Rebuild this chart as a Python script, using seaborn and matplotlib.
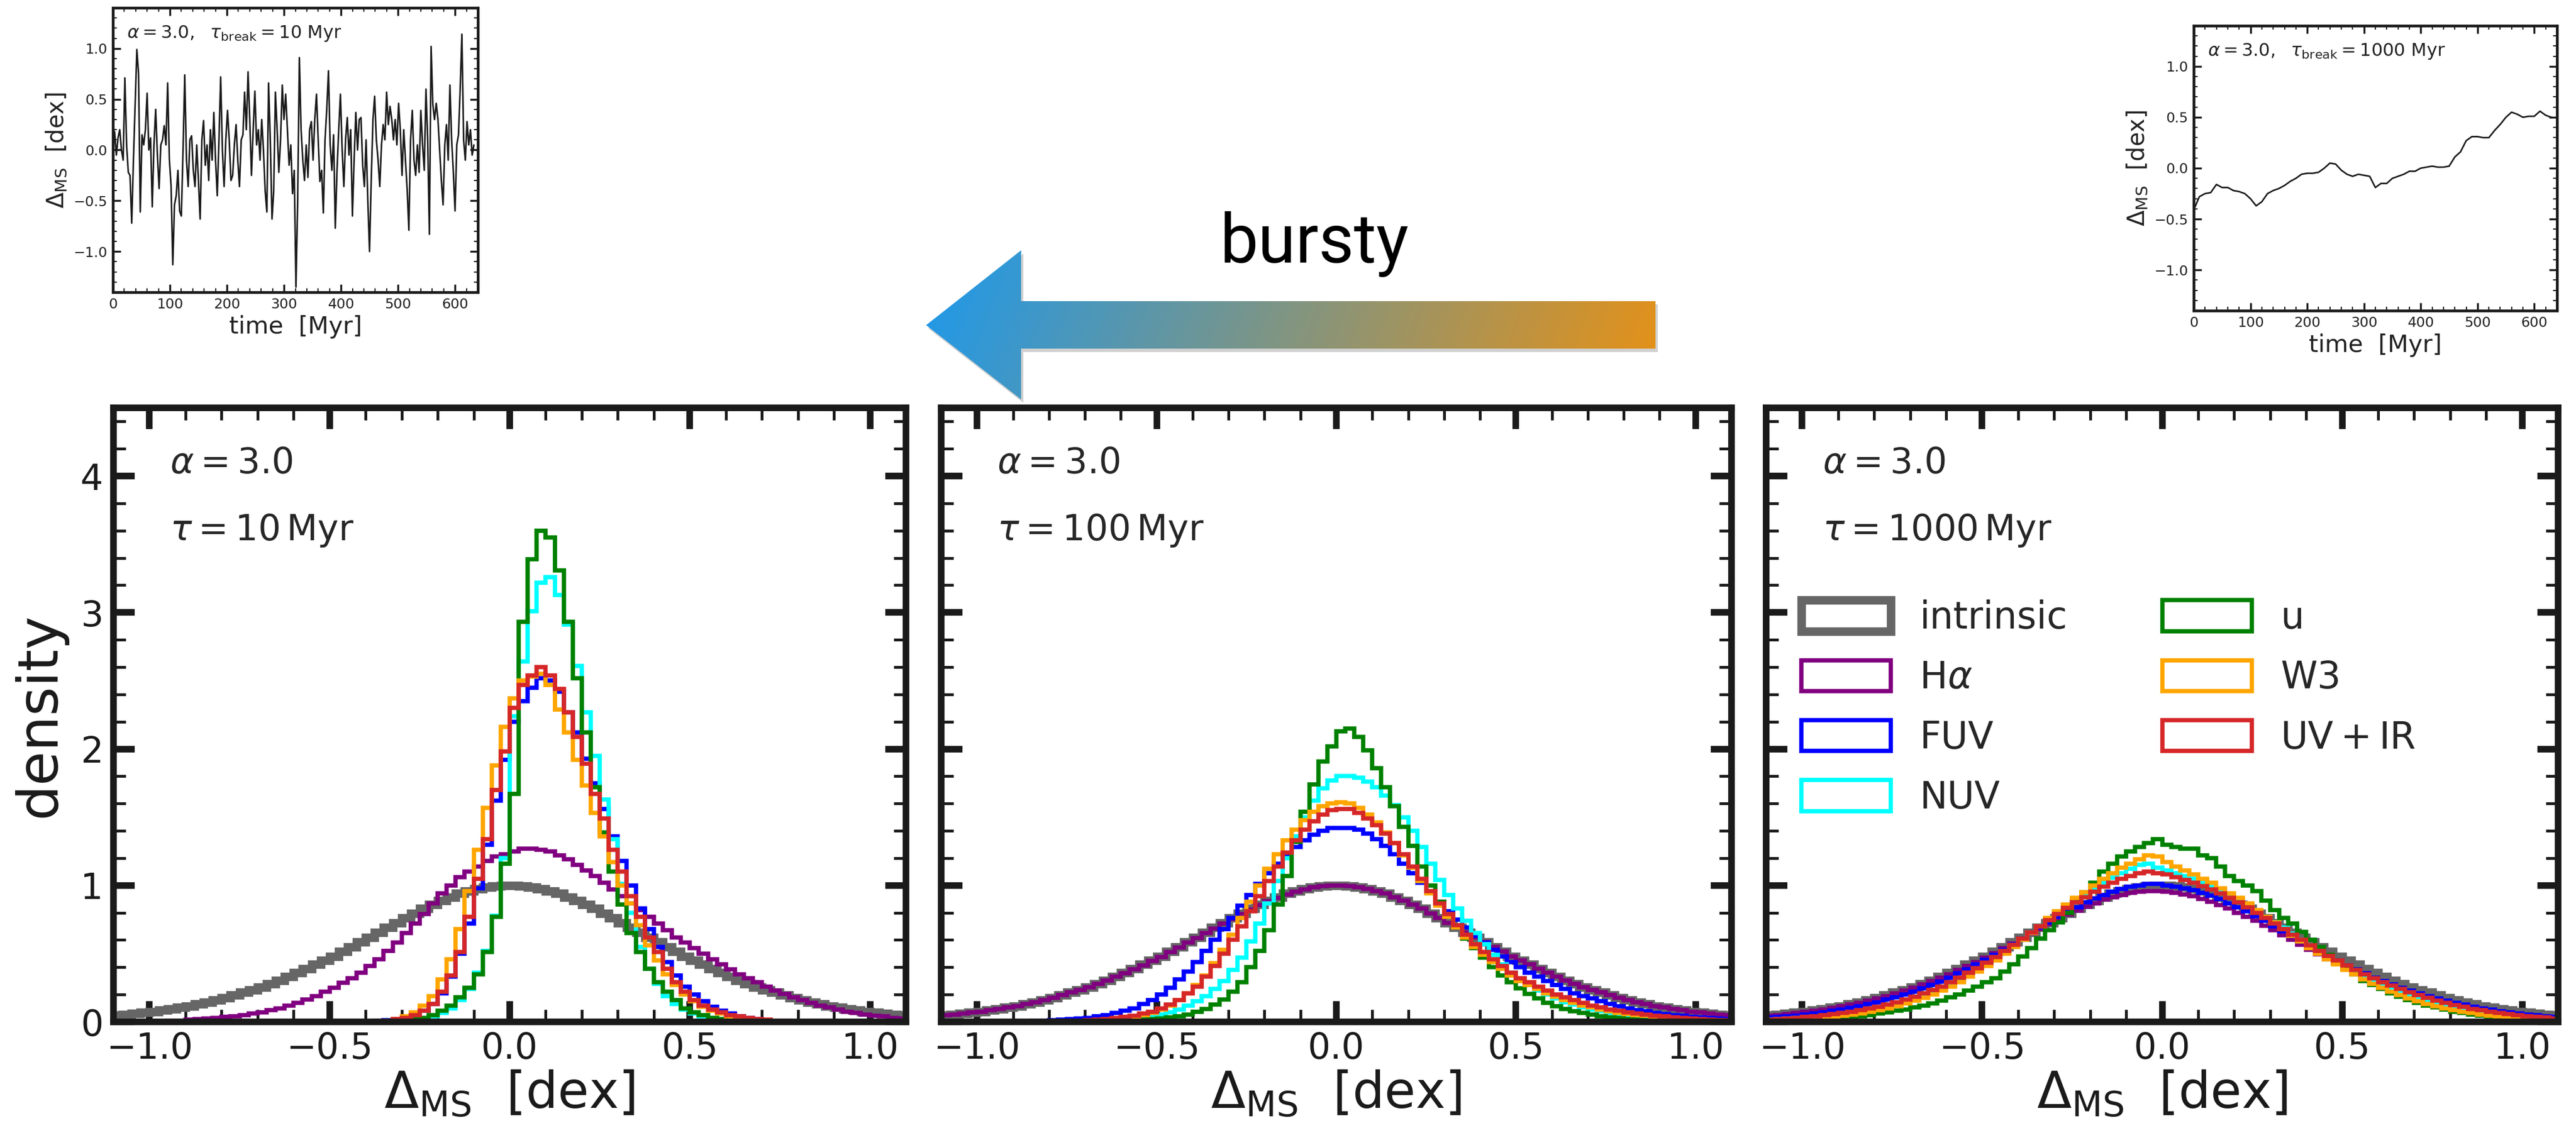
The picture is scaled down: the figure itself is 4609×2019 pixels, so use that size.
import numpy as np
import matplotlib
matplotlib.use("Agg")
import matplotlib.pyplot as plt
import seaborn as sns
from matplotlib.patches import Polygon, Patch
from matplotlib.ticker import MultipleLocator

# ---------------------------------------------------------------- data
# histogram bin heights (density), listed from the centre outward:
# *_L : bins at -0.0125, -0.0375, ...   *_R : bins at +0.0125, +0.0375, ...
BIN_EDGES = [round(-1.1 + 0.025 * i, 4) for i in range(89)]

INTR = [1.0, 0.995, 0.985, 0.975, 0.96, 0.94, 0.915, 0.89, 0.86, 0.83, 0.795, 0.76, 0.725, 0.69, 0.655,
        0.62, 0.585, 0.55, 0.515, 0.48, 0.45, 0.42, 0.39, 0.36, 0.33, 0.305, 0.28, 0.255, 0.235, 0.215,
        0.195, 0.175, 0.16, 0.145, 0.13, 0.115, 0.105, 0.095, 0.085, 0.075, 0.07, 0.06, 0.055, 0.05]

# tau = 10 Myr
HA10_L = [1.23, 1.21, 1.18, 1.14, 1.10, 1.06, 1.00, 0.94, 0.87, 0.79, 0.72, 0.65, 0.58, 0.52, 0.46, 0.41, 0.36,
          0.32, 0.285, 0.25, 0.22, 0.19, 0.165, 0.14, 0.12, 0.10, 0.085, 0.07, 0.06, 0.05, 0.04, 0.035, 0.03,
          0.025, 0.02, 0.015, 0.01, 0.01, 0.005, 0.005, 0.003, 0.002, 0.001, 0.0]
HA10_R = [1.25, 1.27, 1.27, 1.26, 1.25, 1.22, 1.19, 1.15, 1.11, 1.07, 1.02, 0.97, 0.92, 0.87, 0.82, 0.77, 0.72,
          0.67, 0.62, 0.58, 0.54, 0.50, 0.46, 0.42, 0.385, 0.35, 0.32, 0.29, 0.26, 0.23, 0.205, 0.18, 0.16,
          0.14, 0.12, 0.105, 0.09, 0.075, 0.065, 0.055, 0.045, 0.04, 0.03, 0.025]
FUV10_L = [1.92, 1.62, 1.30, 0.98, 0.72, 0.50, 0.33, 0.21, 0.13, 0.08, 0.05, 0.03, 0.02, 0.012, 0.007, 0.004,
           0.002, 0.001]
FUV10_R = [2.20, 2.35, 2.45, 2.52, 2.50, 2.42, 2.27, 2.12, 1.93, 1.75, 1.56, 1.36, 1.18, 1.00, 0.83, 0.68, 0.55,
           0.44, 0.34, 0.26, 0.20, 0.15, 0.11, 0.08, 0.06, 0.04, 0.03, 0.02, 0.01, 0.005, 0.003, 0.002, 0.001]
NUV10_L = [1.20, 0.78, 0.52, 0.36, 0.24, 0.16, 0.10, 0.065, 0.04, 0.025, 0.015, 0.01, 0.006, 0.003, 0.002, 0.001]
NUV10_R = [2.24, 2.64, 3.01, 3.22, 3.26, 3.13, 2.91, 2.61, 2.27, 1.95, 1.63, 1.34, 1.01, 0.80, 0.55, 0.39, 0.28,
           0.19, 0.13, 0.09, 0.06, 0.04, 0.03, 0.02, 0.01, 0.005, 0.003, 0.001]
U10_L = [1.16, 0.77, 0.51, 0.35, 0.25, 0.18, 0.12, 0.08, 0.05, 0.03, 0.02, 0.01, 0.006, 0.003, 0.002, 0.001]
U10_R = [1.67, 2.93, 3.39, 3.60, 3.55, 3.31, 2.93, 2.52, 2.12, 1.72, 1.39, 1.10, 0.86, 0.65, 0.51, 0.39, 0.29,
         0.22, 0.16, 0.10, 0.07, 0.05, 0.03, 0.02, 0.01, 0.006, 0.003, 0.001]
W3_10_L = [2.16, 1.88, 1.57, 1.26, 0.96, 0.68, 0.46, 0.31, 0.19, 0.12, 0.07, 0.04, 0.02, 0.01, 0.005, 0.002, 0.001]
W3_10_R = [2.37, 2.50, 2.53, 2.55, 2.47, 2.29, 2.12, 1.92, 1.73, 1.53, 1.36, 1.17, 1.00, 0.87, 0.71, 0.56, 0.45,
           0.35, 0.27, 0.20, 0.15, 0.11, 0.08, 0.06, 0.04, 0.03, 0.02, 0.01, 0.007, 0.004, 0.002, 0.001]
UVIR10_L = [1.98, 1.70, 1.34, 1.05, 0.77, 0.51, 0.34, 0.22, 0.13, 0.08, 0.05, 0.03, 0.02, 0.01, 0.005, 0.003, 0.001]
UVIR10_R = [2.30, 2.47, 2.54, 2.60, 2.54, 2.44, 2.27, 2.09, 1.89, 1.67, 1.49, 1.26, 1.10, 0.92, 0.77, 0.62, 0.51,
            0.39, 0.29, 0.22, 0.16, 0.12, 0.09, 0.07, 0.05, 0.04, 0.03, 0.02, 0.015, 0.01, 0.007, 0.005, 0.003,
            0.002, 0.001]

# tau = 100 Myr
HA100_L = [1.0, 0.995, 0.985, 0.97, 0.955, 0.935, 0.91, 0.885, 0.855, 0.825, 0.79, 0.755, 0.72, 0.685, 0.65,
           0.615, 0.58, 0.545, 0.51, 0.475, 0.445, 0.415, 0.385, 0.355, 0.33, 0.305, 0.28, 0.255, 0.235, 0.215,
           0.195, 0.175, 0.16, 0.145, 0.13, 0.115, 0.105, 0.095, 0.085, 0.075, 0.07, 0.06, 0.055, 0.05]
HA100_R = [1.0, 0.995, 0.985, 0.975, 0.96, 0.94, 0.915, 0.89, 0.86, 0.83, 0.795, 0.76, 0.725, 0.69, 0.655, 0.62,
           0.585, 0.55, 0.515, 0.48, 0.45, 0.42, 0.39, 0.36, 0.33, 0.305, 0.28, 0.255, 0.235, 0.215, 0.195,
           0.175, 0.16, 0.145, 0.13, 0.115, 0.105, 0.095, 0.085, 0.075, 0.07, 0.06, 0.055, 0.05]
FUV100_L = [1.42, 1.40, 1.37, 1.33, 1.28, 1.22, 1.16, 1.09, 1.01, 0.93, 0.85, 0.76, 0.68, 0.60, 0.52, 0.44, 0.37,
            0.31, 0.25, 0.20, 0.16, 0.13, 0.10, 0.08, 0.065, 0.05, 0.04, 0.03, 0.025, 0.02, 0.015, 0.012, 0.009,
            0.007, 0.005, 0.004, 0.003, 0.002, 0.002, 0.001, 0.001]
FUV100_R = [1.42, 1.42, 1.41, 1.38, 1.34, 1.29, 1.23, 1.16, 1.09, 1.02, 0.95, 0.88, 0.81, 0.75, 0.69, 0.63, 0.58,
            0.53, 0.48, 0.44, 0.40, 0.36, 0.33, 0.30, 0.27, 0.24, 0.21, 0.19, 0.17, 0.15, 0.13, 0.115, 0.10,
            0.088, 0.077, 0.067, 0.058, 0.05, 0.043, 0.037, 0.032, 0.027, 0.023, 0.02]
NUV100_L = [1.77, 1.71, 1.62, 1.50, 1.36, 1.20, 1.03, 0.87, 0.72, 0.59, 0.47, 0.38, 0.30, 0.24, 0.19, 0.15, 0.12,
            0.09, 0.07, 0.055, 0.043, 0.034, 0.027, 0.021, 0.016, 0.012, 0.009, 0.007, 0.005, 0.004, 0.003,
            0.002, 0.001]
NUV100_R = [1.80, 1.80, 1.79, 1.76, 1.72, 1.66, 1.59, 1.50, 1.40, 1.28, 1.16, 1.04, 0.93, 0.83, 0.74, 0.65, 0.57,
            0.49, 0.42, 0.36, 0.31, 0.27, 0.23, 0.20, 0.17, 0.145, 0.125, 0.105, 0.09, 0.077, 0.065, 0.055,
            0.047, 0.04, 0.034, 0.028, 0.024, 0.02, 0.017, 0.014, 0.012, 0.01, 0.008, 0.007]
U100_L = [2.02, 1.91, 1.74, 1.54, 1.32, 1.07, 0.86, 0.67, 0.52, 0.40, 0.29, 0.22, 0.165, 0.125, 0.095, 0.072,
          0.055, 0.042, 0.032, 0.025, 0.019, 0.015, 0.011, 0.008, 0.006, 0.005, 0.004, 0.003, 0.002, 0.002, 0.001]
U100_R = [2.13, 2.15, 2.09, 1.99, 1.86, 1.72, 1.58, 1.43, 1.29, 1.14, 1.00, 0.88, 0.78, 0.69, 0.61, 0.54, 0.47,
          0.40, 0.34, 0.29, 0.245, 0.205, 0.17, 0.14, 0.115, 0.095, 0.078, 0.064, 0.052, 0.042, 0.034, 0.027,
          0.022, 0.018, 0.014, 0.011, 0.009, 0.007, 0.005, 0.004, 0.003, 0.002, 0.002, 0.001]
W3_100_L = [1.60, 1.58, 1.54, 1.48, 1.41, 1.33, 1.23, 1.12, 1.00, 0.88, 0.76, 0.64, 0.53, 0.43, 0.34, 0.27, 0.21,
            0.16, 0.12, 0.09, 0.065, 0.048, 0.035, 0.025, 0.018, 0.013, 0.009, 0.006, 0.004, 0.003, 0.002, 0.001]
W3_100_R = [1.61, 1.60, 1.57, 1.52, 1.46, 1.39, 1.31, 1.22, 1.13, 1.03, 0.94, 0.85, 0.77, 0.69, 0.62, 0.55, 0.49,
            0.44, 0.39, 0.34, 0.30, 0.27, 0.24, 0.21, 0.185, 0.16, 0.14, 0.12, 0.105, 0.09, 0.078, 0.067, 0.058,
            0.05, 0.043, 0.037, 0.031, 0.026, 0.022, 0.019, 0.016, 0.013, 0.011, 0.009]
UVIR100_L = [1.55, 1.52, 1.47, 1.41, 1.33, 1.24, 1.14, 1.03, 0.92, 0.81, 0.70, 0.60, 0.50, 0.41, 0.33, 0.26, 0.21,
             0.16, 0.125, 0.10, 0.075, 0.06, 0.045, 0.035, 0.027, 0.02, 0.015, 0.012, 0.009, 0.007, 0.005, 0.004,
             0.003, 0.002, 0.002, 0.001]
UVIR100_R = [1.56, 1.56, 1.53, 1.49, 1.44, 1.38, 1.31, 1.23, 1.14, 1.05, 0.96, 0.87, 0.79, 0.71, 0.64, 0.57,
             0.51, 0.46, 0.41, 0.36, 0.32, 0.29, 0.26, 0.23, 0.20, 0.18, 0.16, 0.14, 0.12, 0.105, 0.092, 0.08,
             0.07, 0.06, 0.052, 0.045, 0.039, 0.033, 0.028, 0.024, 0.02, 0.017, 0.014, 0.012]

# tau = 1000 Myr
HA1000_L = [0.96, 0.96, 0.955, 0.945, 0.93, 0.915, 0.895, 0.87, 0.845, 0.815, 0.785, 0.75, 0.715, 0.68, 0.645,
            0.61, 0.575, 0.54, 0.505, 0.47, 0.44, 0.41, 0.38, 0.35, 0.325, 0.30, 0.275, 0.25, 0.23, 0.21, 0.19,
            0.172, 0.156, 0.141, 0.127, 0.114, 0.102, 0.091, 0.081, 0.072, 0.064, 0.057, 0.05, 0.044]
HA1000_R = [0.955, 0.945, 0.935, 0.92, 0.90, 0.88, 0.855, 0.83, 0.80, 0.77, 0.74, 0.705, 0.67, 0.635, 0.60,
            0.565, 0.53, 0.495, 0.46, 0.43, 0.40, 0.37, 0.34, 0.315, 0.29, 0.265, 0.245, 0.225, 0.205, 0.185,
            0.168, 0.152, 0.137, 0.123, 0.11, 0.098, 0.087, 0.077, 0.068, 0.06, 0.053, 0.047, 0.041, 0.036]
FUV1000_L = [1.01, 1.01, 1.0, 0.99, 0.975, 0.955, 0.93, 0.905, 0.875, 0.84, 0.805, 0.77, 0.73, 0.69, 0.65, 0.61,
             0.57, 0.53, 0.49, 0.455, 0.42, 0.385, 0.355, 0.325, 0.295, 0.27, 0.245, 0.22, 0.2, 0.18, 0.162,
             0.145, 0.13, 0.116, 0.103, 0.091, 0.08, 0.07, 0.062, 0.054, 0.047, 0.041, 0.036, 0.031]
FUV1000_R = [1.0, 0.99, 0.98, 0.965, 0.945, 0.925, 0.90, 0.87, 0.84, 0.81, 0.775, 0.74, 0.70, 0.665, 0.63, 0.59,
             0.555, 0.52, 0.485, 0.45, 0.415, 0.385, 0.355, 0.325, 0.30, 0.275, 0.25, 0.23, 0.21, 0.19, 0.172,
             0.155, 0.14, 0.125, 0.112, 0.1, 0.089, 0.079, 0.07, 0.062, 0.055, 0.048, 0.042, 0.037]
NUV1000_L = [1.13, 1.16, 1.15, 1.12, 1.09, 1.055, 1.02, 0.98, 0.935, 0.89, 0.845, 0.80, 0.75, 0.70, 0.65, 0.60,
             0.555, 0.51, 0.465, 0.425, 0.385, 0.35, 0.315, 0.28, 0.25, 0.225, 0.2, 0.177, 0.156, 0.137, 0.12,
             0.105, 0.092, 0.08, 0.069, 0.06, 0.052, 0.044, 0.038, 0.032, 0.027, 0.023, 0.019, 0.016]
NUV1000_R = [1.11, 1.09, 1.07, 1.05, 1.02, 0.99, 0.96, 0.925, 0.89, 0.85, 0.81, 0.77, 0.73, 0.69, 0.645, 0.60,
             0.56, 0.52, 0.48, 0.44, 0.405, 0.37, 0.335, 0.305, 0.275, 0.25, 0.225, 0.2, 0.18, 0.16, 0.142,
             0.126, 0.111, 0.098, 0.086, 0.075, 0.065, 0.057, 0.049, 0.042, 0.036, 0.031, 0.026, 0.022]
U1000_L = [1.34, 1.31, 1.28, 1.25, 1.21, 1.16, 1.10, 1.02, 0.95, 0.88, 0.80, 0.73, 0.67, 0.61, 0.54, 0.48, 0.42,
           0.37, 0.32, 0.29, 0.26, 0.23, 0.20, 0.18, 0.155, 0.135, 0.12, 0.105, 0.09, 0.08, 0.07, 0.06, 0.05,
           0.042, 0.035, 0.03, 0.025, 0.02, 0.016, 0.013, 0.01, 0.008, 0.006, 0.005]
U1000_R = [1.30, 1.28, 1.27, 1.27, 1.22, 1.20, 1.14, 1.07, 1.03, 1.00, 0.96, 0.89, 0.82, 0.76, 0.72, 0.66, 0.60,
           0.55, 0.49, 0.44, 0.39, 0.35, 0.30, 0.27, 0.24, 0.21, 0.185, 0.16, 0.14, 0.12, 0.105, 0.09, 0.075,
           0.065, 0.055, 0.045, 0.038, 0.032, 0.026, 0.021, 0.017, 0.014, 0.011, 0.009]
W3_1000_L = [1.21, 1.22, 1.19, 1.16, 1.13, 1.09, 1.05, 1.00, 0.95, 0.91, 0.86, 0.81, 0.76, 0.70, 0.65, 0.60,
             0.55, 0.50, 0.45, 0.41, 0.37, 0.33, 0.29, 0.26, 0.23, 0.20, 0.175, 0.155, 0.135, 0.115, 0.10, 0.085,
             0.072, 0.061, 0.052, 0.044, 0.037, 0.031, 0.026, 0.022, 0.018, 0.015, 0.012, 0.01]
W3_1000_R = [1.17, 1.14, 1.11, 1.08, 1.05, 1.02, 0.98, 0.94, 0.91, 0.87, 0.82, 0.77, 0.73, 0.68, 0.63, 0.59,
             0.54, 0.50, 0.46, 0.42, 0.38, 0.35, 0.31, 0.28, 0.25, 0.22, 0.195, 0.17, 0.15, 0.13, 0.115, 0.10,
             0.087, 0.075, 0.064, 0.055, 0.047, 0.04, 0.034, 0.029, 0.024, 0.02, 0.017, 0.014]
UVIR1000_L = [1.09, 1.10, 1.09, 1.07, 1.05, 1.02, 0.99, 0.955, 0.915, 0.875, 0.835, 0.79, 0.745, 0.70, 0.655,
              0.61, 0.565, 0.52, 0.475, 0.435, 0.395, 0.36, 0.325, 0.29, 0.26, 0.235, 0.21, 0.185, 0.165, 0.145,
              0.128, 0.112, 0.098, 0.086, 0.075, 0.065, 0.056, 0.048, 0.041, 0.035, 0.03, 0.025, 0.021, 0.018]
UVIR1000_R = [1.08, 1.06, 1.04, 1.02, 0.995, 0.97, 0.94, 0.91, 0.875, 0.84, 0.80, 0.76, 0.72, 0.68, 0.64, 0.60,
              0.56, 0.52, 0.485, 0.45, 0.415, 0.38, 0.35, 0.32, 0.29, 0.265, 0.24, 0.215, 0.195, 0.175, 0.156,
              0.139, 0.123, 0.109, 0.096, 0.084, 0.074, 0.064, 0.056, 0.048, 0.042, 0.036, 0.031, 0.026]

SERIES = ["intrinsic", "Ha", "FUV", "NUV", "u", "W3", "UVIR"]
LABELS = ["intrinsic", r"H$\alpha$", "FUV", "NUV", "u", "W3", r"$\rm UV + IR$"]
COLORS = ["#666666", "purple", "blue", "cyan", "green", "orange", "#d62728"]
TAU_TEXT = ["10", "100", "1000"]

# inset time series (Delta_MS in dex)
TIME_BURSTY = list(range(0, 634, 3))
DMS_BURSTY = [0.05, 0.18, -0.05, 0.12, 0.20, 0.00, -0.10, 0.71, 0.05, -0.22,
              -0.25, -0.72, -0.10, 0.45, 0.99, 0.75, -0.61, 0.15, 0.05, 0.20,
              0.56, 0.00, 0.12, -0.56, 0.05, 0.40, -0.05, -0.38, 0.05, 0.10,
              0.24, 0.05, 0.66, -0.09, -0.35, -1.13, -0.54, -0.45, -0.20, -0.60,
              -0.65, 0.00, 0.74, -0.10, -0.36, 0.10, 0.14, -0.20, -0.36, 0.05,
              -0.30, -0.68, 0.10, 0.29, -0.15, 0.05, -0.30, 0.20, -0.10, 0.37,
              -0.10, -0.45, 0.10, 0.72, 0.00, -0.36, 0.10, 0.39, 0.10, -0.30,
              -0.25, 0.05, 0.25, -0.10, -0.36, 0.10, 0.15, 0.57, 0.20, 0.77,
              0.30, -0.25, 0.20, 0.58, 0.05, 0.20, -0.10, 0.30, 0.00, -0.40,
              -0.61, 0.66, 0.10, -0.68, -0.40, 0.57, 0.20, -0.22, 0.10, 0.64,
              0.30, 0.55, 0.20, -0.15, 0.05, -0.43, -0.20, -1.35, -0.50, 0.91,
              0.20, -0.10, -0.30, 0.05, -0.27, 0.20, 0.28, -0.10, 0.30, 0.55,
              0.10, -0.31, -0.20, -0.62, 0.10, 0.40, 0.78, 0.05, -0.20, 0.15,
              -0.77, -0.20, 0.20, 0.55, 0.00, -0.36, 0.10, 0.32, -0.05, 0.20,
              -0.65, -0.10, 0.37, 0.00, 0.30, 0.32, -0.15, -0.36, 0.10, -0.50,
              -1.00, -0.30, 0.30, 0.53, 0.10, -0.10, -0.36, 0.05, 0.25, 0.10,
              0.57, 0.25, 0.43, 0.30, 0.10, 0.30, 0.05, 0.46, 0.20, -0.25,
              0.20, -0.10, -0.39, -0.79, 0.10, 0.39, -0.10, -0.25, 0.05, -0.22,
              0.39, 0.05, -0.20, 0.60, 0.10, -0.83, 1.02, 0.45, 0.30, 0.46,
              0.30, 0.00, -0.30, -0.54, 0.05, 0.25, -0.10, 0.64, 0.10, -0.22,
              -0.60, 0.05, 0.15, 0.60, 1.14, 0.10, -0.10, 0.28, 0.05, 0.20,
              -0.05, 0.05]
TIME_SMOOTH = list(range(0, 631, 10))
DMS_SMOOTH = [-0.41, -0.28, -0.25, -0.24, -0.16, -0.19, -0.19, -0.22, -0.23, -0.25,
              -0.30, -0.37, -0.33, -0.25, -0.22, -0.20, -0.17, -0.13, -0.10, -0.06,
              -0.05, -0.05, -0.04, 0.00, 0.05, 0.04, -0.02, -0.06, -0.08, -0.06,
              -0.07, -0.08, -0.19, -0.15, -0.15, -0.10, -0.08, -0.06, -0.03, -0.03,
              0.00, 0.01, 0.02, 0.01, 0.01, 0.02, 0.11, 0.16, 0.27, 0.31,
              0.31, 0.30, 0.30, 0.37, 0.43, 0.50, 0.55, 0.53, 0.50, 0.51,
              0.51, 0.56, 0.52, 0.50]


def full_hist(left_out, right_out):
    L = (list(left_out) + [0.0] * 44)[:44]
    R = (list(right_out) + [0.0] * 44)[:44]
    return np.array(L[::-1] + R)


PANELS = [
    [full_hist(INTR, INTR), full_hist(HA10_L, HA10_R), full_hist(FUV10_L, FUV10_R), full_hist(NUV10_L, NUV10_R),
     full_hist(U10_L, U10_R), full_hist(W3_10_L, W3_10_R), full_hist(UVIR10_L, UVIR10_R)],
    [full_hist(INTR, INTR), full_hist(HA100_L, HA100_R), full_hist(FUV100_L, FUV100_R),
     full_hist(NUV100_L, NUV100_R), full_hist(U100_L, U100_R), full_hist(W3_100_L, W3_100_R),
     full_hist(UVIR100_L, UVIR100_R)],
    [full_hist(INTR, INTR), full_hist(HA1000_L, HA1000_R), full_hist(FUV1000_L, FUV1000_R),
     full_hist(NUV1000_L, NUV1000_R), full_hist(U1000_L, U1000_R), full_hist(W3_1000_L, W3_1000_R),
     full_hist(UVIR1000_L, UVIR1000_R)],
]
_E = np.array(BIN_EDGES)
CENTERS = 0.5 * (_E[:-1] + _E[1:])

# ---------------------------------------------------------------- style
sns.set_theme(style="ticks")
plt.rcParams["font.family"] = ["DejaVu Sans"]
plt.rcParams["mathtext.fontset"] = "dejavusans"

W, H = 4609, 2019
fig = plt.figure(figsize=(W / 100, H / 100), dpi=100)
fig.patch.set_facecolor("white")

LW_THIN = 5.5
LW_THICK = 11

panel_lefts = [203, 1684, 3160]
panel_rights = [1621, 3098, 4577]
top_px, bot_px = 730, 1829

axes = []
for k in range(3):
    l = panel_lefts[k] / W
    w = (panel_rights[k] - panel_lefts[k]) / W
    b = 1 - bot_px / H
    h = (bot_px - top_px) / H
    ax = fig.add_axes([l, b, w, h])
    axes.append(ax)
    for name, vals, col in zip(SERIES, PANELS[k], COLORS):
        sns.histplot(x=CENTERS, weights=vals, bins=BIN_EDGES, element="step", fill=False,
                     color=col, linewidth=LW_THICK if name == "intrinsic" else LW_THIN,
                     ax=ax, solid_joinstyle="miter")
    ax.set_xlim(-1.1, 1.1)
    ax.set_ylim(0, 4.5)
    ax.xaxis.set_major_locator(MultipleLocator(0.5))
    ax.xaxis.set_minor_locator(MultipleLocator(0.1))
    ax.yaxis.set_major_locator(MultipleLocator(1))
    ax.yaxis.set_minor_locator(MultipleLocator(0.2))
    ax.tick_params(which="both", direction="in", top=True, right=True, bottom=True, left=True,
                   color="k", labelcolor="k")
    ax.tick_params(which="major", length=27, width=8.5, labelsize=46)
    ax.tick_params(which="minor", length=16, width=3.6)
    ax.tick_params(axis="x", which="major", pad=12)
    ax.tick_params(axis="y", which="major", pad=13)
    for sp in ax.spines.values():
        sp.set_linewidth(8.5)
        sp.set_color("k")
    ax.set_xlabel(r"$\Delta_{\rm MS}\ \ [{\rm dex}]$", fontsize=65, labelpad=4, color="k")
    if k == 0:
        ax.set_ylabel("density", fontsize=72, labelpad=18, color="k")
    else:
        ax.set_ylabel("")
        ax.tick_params(labelleft=False)
    ax.text(0.071, 0.91, r"$\alpha = 3.0$", transform=ax.transAxes, fontsize=46, ha="left", va="center")
    ax.text(0.071, 0.80, r"$\tau = %s\,{\rm Myr}$" % TAU_TEXT[k], transform=ax.transAxes, fontsize=46,
            ha="left", va="center")

handles = [Patch(facecolor="none", edgecolor=c, linewidth=(LW_THICK if n == "intrinsic" else LW_THIN))
           for n, c in zip(SERIES, COLORS)]
axes[2].legend(handles, LABELS, loc="upper left", bbox_to_anchor=(0.0445, 0.688), ncol=2, frameon=False,
               fontsize=48, handlelength=2.4, handleheight=0.9, handletextpad=0.77, columnspacing=2.55,
               labelspacing=0.62, borderpad=0, borderaxespad=0)

# ---------------------------------------------------------------- insets
def inset(rect, t, v, label):
    ax = fig.add_axes(rect)
    sns.lineplot(x=t, y=v, ax=ax, color="#1a1a1a", linewidth=2.0)
    ax.set_xlim(0, 640)
    ax.set_ylim(-1.4, 1.4)
    ax.xaxis.set_major_locator(MultipleLocator(100))
    ax.xaxis.set_minor_locator(MultipleLocator(20))
    ax.yaxis.set_major_locator(MultipleLocator(0.5))
    ax.yaxis.set_minor_locator(MultipleLocator(0.1))
    ax.tick_params(which="both", direction="in", top=True, right=True, color="#1a1a1a",
                   labelcolor="#222222")
    ax.tick_params(which="major", length=10, width=2.5, labelsize=18, pad=7)
    ax.tick_params(which="minor", length=5, width=1.5)
    for sp in ax.spines.values():
        sp.set_linewidth(3.5)
        sp.set_color("#1a1a1a")
    ax.set_xlabel("time  [Myr]", fontsize=31, labelpad=5, color="#222222")
    ax.set_ylabel(r"$\Delta_{\rm MS}\ \ [{\rm dex}]$", fontsize=30, labelpad=6, color="#222222")
    ax.text(0.038, 0.91, label, transform=ax.transAxes, fontsize=23, ha="left", va="center",
            color="#222222")
    return ax


inset([202 / W, 1 - 523 / H, 653 / W, 509 / H], TIME_BURSTY, DMS_BURSTY,
      r"$\alpha = 3.0,\ \ \tau_{\rm break} = 10\ {\rm Myr}$")
inset([3925 / W, 1 - 556 / H, 650 / W, 510 / H], TIME_SMOOTH, DMS_SMOOTH,
      r"$\alpha = 3.0,\ \ \tau_{\rm break} = 1000\ {\rm Myr}$")

# ---------------------------------------------------------------- gradient arrow + label
ax_ar = fig.add_axes([0, 0, 1, 1], zorder=5)
ax_ar.patch.set_alpha(0)
ax_ar.axis("off")
xt, xh, xr = 1657 / W, 1827 / W, 2962 / W
yc = 1 - 582 / H
yht, yhb = 1 - 448 / H, 1 - 715 / H
yst, ysb = 1 - 539 / H, 1 - 624 / H
verts = [(xt, yc), (xh, yht), (xh, yst), (xr, yst), (xr, ysb), (xh, ysb), (xh, yhb)]
shadow = Polygon([(x + 4 / W, y - 6 / H) for x, y in verts], closed=True, facecolor=(0, 0, 0, 0.18),
                 edgecolor="none", zorder=1)
ax_ar.add_patch(shadow)
poly = Polygon(verts, closed=True, facecolor="none", edgecolor="none", zorder=2)
ax_ar.add_patch(poly)
nx, ny = 600, 150
gx, gy = np.meshgrid(np.linspace(0, 1, nx), np.linspace(0, 1, ny))
u = (gx + 0.08 * (1 - gy)) / 1.08
c0 = np.array([0.11, 0.60, 0.93])
c1 = np.array([0.91, 0.57, 0.08])
img = c0[None, None, :] * (1 - u[..., None]) + c1[None, None, :] * u[..., None]
im = ax_ar.imshow(img, extent=[xt, xr, yhb, yht], origin="lower", aspect="auto", zorder=3,
                  interpolation="bilinear")
im.set_clip_path(poly)
ax_ar.set_xlim(0, 1)
ax_ar.set_ylim(0, 1)

fig.text(2352 / W, 1 - 470 / H, "bursty", fontsize=88, family="Roboto", ha="center", va="baseline",
         color="black")

fig.savefig("out.png", dpi=100)
